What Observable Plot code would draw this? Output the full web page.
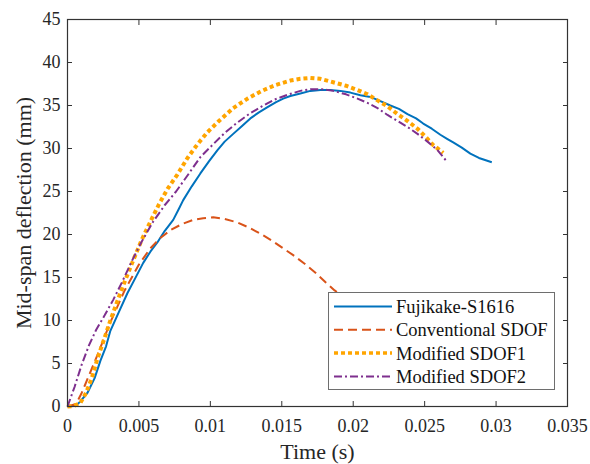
<!DOCTYPE html>
<html>
<head>
<meta charset="utf-8">
<script src="https://cdn.jsdelivr.net/npm/d3@7"></script>
<script src="https://cdn.jsdelivr.net/npm/@observablehq/plot@0.6"></script>
<style>
  body { margin: 0; background: #fff; }
  #wrap { position: relative; width: 590px; height: 464px; font-family: "Liberation Serif", "Times New Roman", serif; }
  #wrap svg, #wrap svg text { font-family: "Liberation Serif", "Times New Roman", serif !important; }
  #legend { position: absolute; left: 328px; top: 292px; }
</style>
</head>
<body>
<div id="wrap"><div id="chart"></div><div id="legend"></div></div>
<script>
// Time (s) and mid-span deflection (mm)
const fujiT = [0, 0.0006, 0.0009, 0.0014, 0.0019, 0.0023, 0.0027, 0.0030, 0.0036, 0.0042, 0.0048, 0.0053, 0.0058, 0.0063, 0.0068, 0.0074, 0.0078, 0.0081, 0.0087, 0.0093, 0.0099, 0.0105, 0.0110, 0.0116, 0.0122, 0.0128, 0.0134, 0.0140, 0.0146, 0.0151, 0.0156, 0.0163, 0.0170, 0.0177, 0.0184, 0.0191, 0.0198, 0.0205, 0.0212, 0.0219, 0.0226, 0.0232, 0.0238, 0.0244, 0.0249, 0.0255, 0.0261, 0.0266, 0.0270, 0.0276, 0.0282, 0.0288, 0.0297];
const fujiV = [0, 0.1, 0.6, 1.6, 3.3, 5.3, 7.0, 8.8, 11.0, 13.2, 15.1, 16.7, 18.0, 19.1, 20.4, 21.7, 23.0, 24.0, 25.6, 27.1, 28.5, 29.8, 30.8, 31.7, 32.6, 33.5, 34.2, 34.8, 35.4, 35.8, 36.1, 36.4, 36.7, 36.8, 36.8, 36.7, 36.5, 36.2, 36.0, 35.5, 35.0, 34.6, 34.0, 33.5, 32.9, 32.3, 31.6, 31.1, 30.7, 30.1, 29.4, 28.9, 28.4];

const convT = [0, 0.0006, 0.0010, 0.0015, 0.0021, 0.0030, 0.0040, 0.0050, 0.0058, 0.0065, 0.0072, 0.0080, 0.0088, 0.0095, 0.0102, 0.0110, 0.0119, 0.0127, 0.0135, 0.0143, 0.0150, 0.0158, 0.0166, 0.0174, 0.0181, 0.0187, 0.0193, 0.0200, 0.0207];
const convV = [0, 0.3, 1.6, 3.6, 6.0, 9.8, 13.5, 16.5, 18.4, 19.6, 20.5, 21.2, 21.7, 21.9, 22.0, 21.8, 21.4, 20.8, 20.1, 19.3, 18.5, 17.6, 16.6, 15.5, 14.4, 13.5, 12.8, 11.8, 10.8];

const mod1T = [0, 0.0004, 0.0009, 0.0013, 0.0017, 0.0021, 0.0026, 0.0030, 0.0035, 0.0040, 0.0046, 0.0052, 0.0058, 0.0064, 0.0070, 0.0077, 0.0084, 0.0091, 0.0098, 0.0106, 0.0116, 0.0126, 0.0136, 0.0146, 0.0156, 0.0163, 0.0170, 0.0177, 0.0186, 0.0195, 0.0203, 0.0210, 0.0217, 0.0224, 0.0231, 0.0238, 0.0245, 0.0251, 0.0256, 0.0263];
const mod1V = [0, 0.05, 0.4, 1.6, 3.3, 5.6, 8.0, 10.0, 12.3, 14.5, 17.0, 19.4, 21.5, 23.5, 25.3, 27.0, 28.9, 30.5, 31.9, 33.2, 34.7, 35.8, 36.7, 37.4, 37.9, 38.1, 38.2, 38.1, 37.7, 37.3, 36.8, 36.3, 35.6, 34.9, 34.0, 33.2, 32.3, 31.3, 30.4, 29.5];

const mod2T = [0, 0.0005, 0.0010, 0.0015, 0.0020, 0.0026, 0.0032, 0.0038, 0.0045, 0.0052, 0.0060, 0.0068, 0.0076, 0.0085, 0.0093, 0.0102, 0.0110, 0.0118, 0.0127, 0.0136, 0.0145, 0.0155, 0.0163, 0.0170, 0.0178, 0.0186, 0.0195, 0.0203, 0.0210, 0.0217, 0.0224, 0.0231, 0.0238, 0.0245, 0.0252, 0.0259, 0.0266];
const mod2V = [0, 2.3, 4.9, 7.1, 8.9, 10.6, 12.4, 14.4, 16.9, 19.2, 21.5, 23.4, 25.0, 27.1, 29.0, 30.5, 31.8, 32.9, 34.0, 34.9, 35.7, 36.3, 36.7, 36.9, 36.9, 36.7, 36.3, 35.8, 35.3, 34.7, 33.9, 33.2, 32.5, 31.7, 30.8, 29.8, 28.4];

const seriesNames = ["Fujikake-S1616", "Conventional SDOF", "Modified SDOF1", "Modified SDOF2"];
const seriesColors = ["#0072BD", "#D95319", "#FFA500", "#7E2F8E"];
const seriesDash = [null, "9,5", "4,3", "8,3,2,3"];
const seriesWidth = [2, 2, 4, 2];
const xTicks = [0, 0.005, 0.01, 0.015, 0.02, 0.025, 0.03, 0.035];
const yTicks = [0, 5, 10, 15, 20, 25, 30, 35, 40, 45];
const xLabel = "Time (s)";
const yLabel = "Mid-span deflection (mm)";

const allT = [fujiT, convT, mod1T, mod2T];
const allV = [fujiV, convV, mod1V, mod2V];
const rows = [];
allT.forEach((ts, i) => ts.forEach((t, j) => rows.push({series: seriesNames[i], t, v: allV[i][j]})));

const font = '"Liberation Serif", "Times New Roman", serif';
const lineMarks = seriesNames.map((name, i) =>
  Plot.line(rows.filter(r => r.series === name), {
    x: "t", y: "v", stroke: seriesColors[i], strokeWidth: seriesWidth[i],
    strokeDasharray: seriesDash[i], strokeLinecap: "butt", strokeLinejoin: "round", curve: "linear"
  })
);

const fmt = d => String(d);
const chart = Plot.plot({
  width: 590, height: 464,
  marginLeft: 67, marginRight: 23, marginTop: 19, marginBottom: 58,
  style: {fontFamily: font, fontSize: "18px", color: "#262626", background: "#fff", overflow: "visible"},
  x: {domain: [0, 0.035]},
  y: {domain: [0, 45]},
  marks: [
    ...lineMarks,
    Plot.frame({stroke: "#333", strokeWidth: 1.2}),
    // inward ticks on all four sides
    Plot.axisX(xTicks, {anchor: "bottom", tickSize: 5, dy: -5, tickFormat: () => "", label: null, stroke: "#333"}),
    Plot.axisX(xTicks, {anchor: "top", tickSize: 5, dy: 5, tickFormat: () => "", label: null, stroke: "#333"}),
    Plot.axisY(yTicks, {anchor: "left", tickSize: 5, dx: 5, tickFormat: () => "", label: null, stroke: "#333"}),
    Plot.axisY(yTicks, {anchor: "right", tickSize: 5, dx: -5, tickFormat: () => "", label: null, stroke: "#333"}),
    // tick labels
    Plot.axisX(xTicks, {anchor: "bottom", tickSize: 0, tickPadding: 13, tickFormat: fmt, label: null, fill: "#262626", fontFamily: font}),
    Plot.axisY(yTicks, {anchor: "left", tickSize: 0, tickPadding: 7, tickFormat: fmt, label: null, fill: "#262626", fontFamily: font}),
    // axis titles
    Plot.text([xLabel], {frameAnchor: "bottom", dy: 45, textAnchor: "middle", lineAnchor: "middle", fontSize: 22, fill: "#262626", fontFamily: font}),
    Plot.text([yLabel], {frameAnchor: "left", dx: -44, rotate: -90, textAnchor: "middle", lineAnchor: "middle", fontSize: 22, fill: "#262626", fontFamily: font})
  ]
});
document.getElementById("chart").appendChild(chart);

// Legend box overlaying the plot area (lower right)
const lw = 227, lh = 98;
const leg = d3.select("#legend").append("svg").attr("width", lw).attr("height", lh)
  .style("font-family", font).style("display", "block");
leg.append("rect").attr("x", 0.5).attr("y", 0.5).attr("width", lw - 1).attr("height", lh - 1)
  .attr("fill", "#fff").attr("stroke", "#6e6e6e").attr("stroke-width", 1);
seriesNames.forEach((name, i) => {
  const cy = 14.5 + i * 23.3;
  leg.append("line").attr("x1", 6).attr("x2", 64).attr("y1", cy).attr("y2", cy)
    .attr("stroke", seriesColors[i]).attr("stroke-width", seriesWidth[i] === 4 ? 3.5 : 2)
    .attr("stroke-dasharray", seriesDash[i]);
  leg.append("text").attr("x", 68).attr("y", cy).attr("dy", "0.35em")
    .attr("font-size", 18.5).attr("fill", "#111").text(name);
});
</script>
</body>
</html>
